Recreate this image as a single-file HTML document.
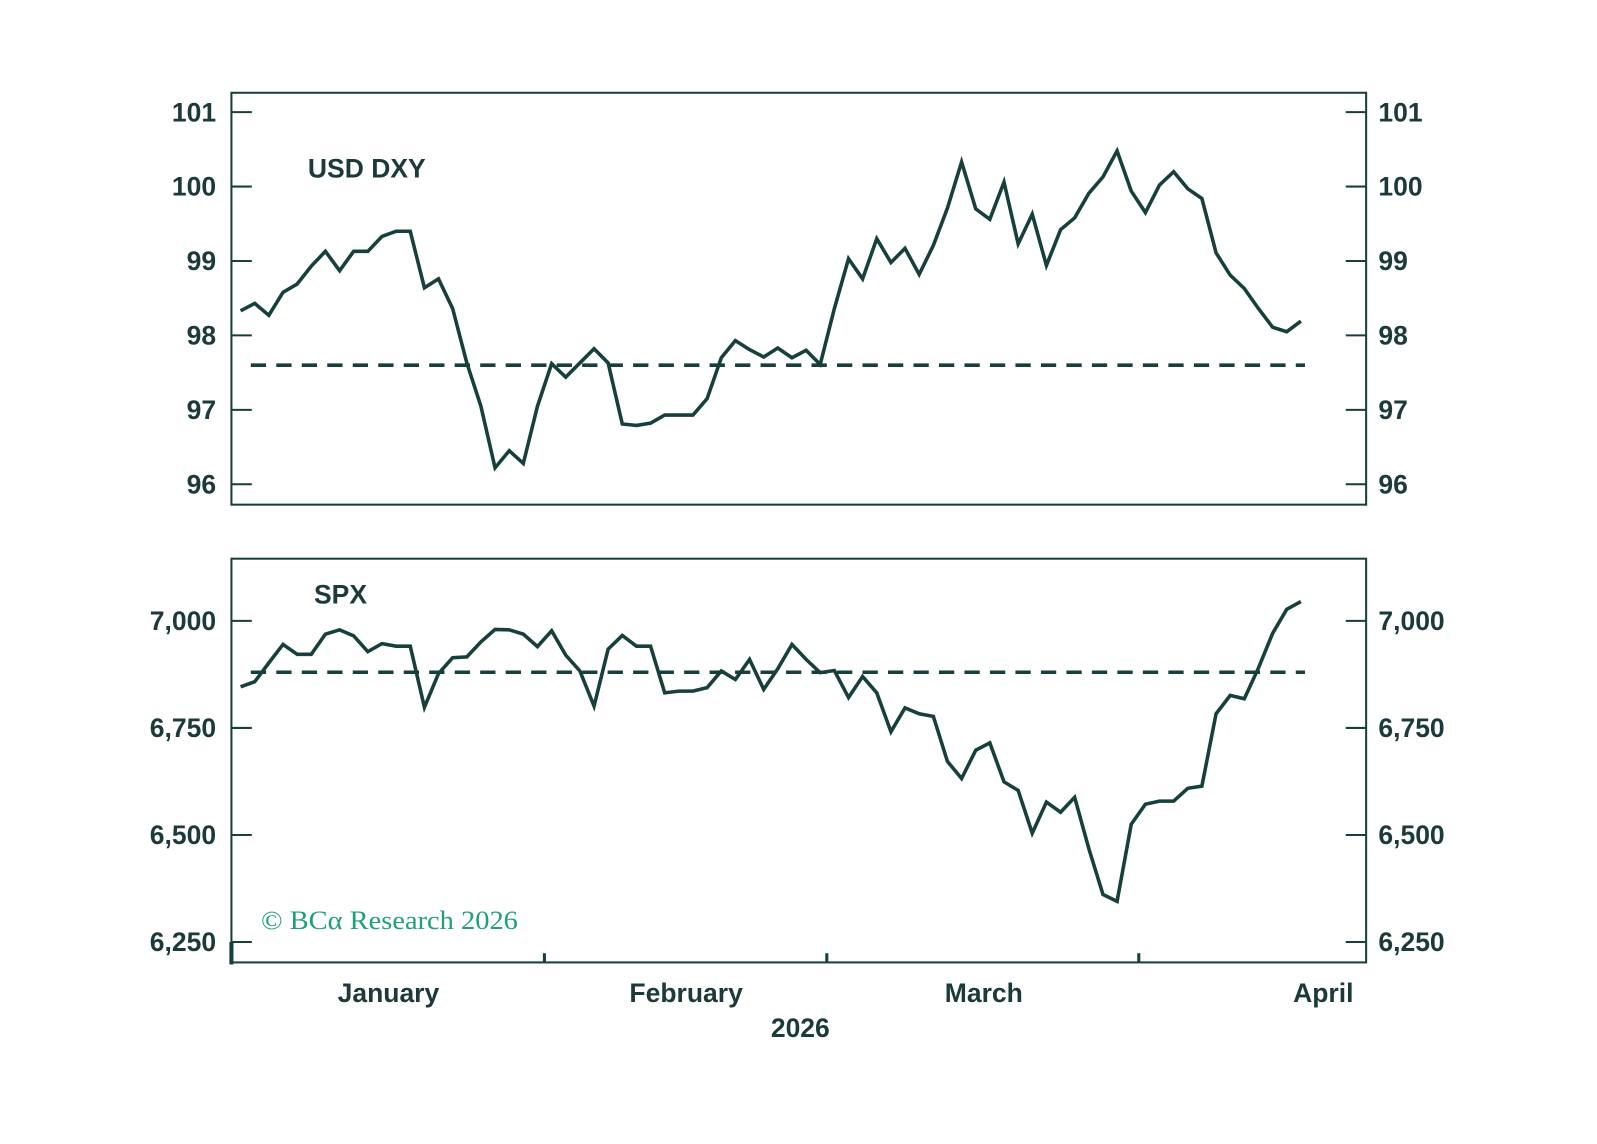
<!DOCTYPE html>
<html><head><meta charset="utf-8"><style>
body{margin:0;background:#fff;}
svg{display:block;font-family:"Liberation Sans",sans-serif;}
.tl{font-size:26px;font-weight:bold;fill:#1d3a3a;}
</style></head><body>
<svg id="chart" width="1597" height="1144" viewBox="0 0 1597 1144">
<rect x="0" y="0" width="1597" height="1144" fill="#fff"/>
<g id="g" transform="scale(1.0195)"></g>
</svg>
<script>
const dxyValues=[98.33,98.43,98.27,98.58,98.69,98.93,99.13,98.87,99.13,99.13,99.33,99.40,99.40,98.64,98.76,98.36,97.63,97.05,96.22,96.45,96.28,97.05,97.62,97.44,97.63,97.82,97.63,96.81,96.79,96.82,96.93,96.93,96.93,97.15,97.70,97.93,97.81,97.71,97.83,97.70,97.80,97.61,
98.36,99.03,98.76,99.30,98.98,99.17,98.82,99.21,99.71,100.33,99.70,99.56,100.06,99.23,99.63,98.94,99.42,99.58,99.91,100.13,100.48,99.94,99.65,100.02,100.20,99.97,99.84,99.11,98.81,98.63,98.36,98.11,98.05,98.19];
const spxValues=[6846,6858,6902,6945,6922,6922,6969,6979,6965,6928,6947,6941,6941,6798,6877,6914,6916,6951,6980,6979,6969,6940,6977,6920,6883,6801,6934,6966,6941,6941,6832,6836,6836,6844,6883,6863,6910,6840,6888,6945,6910,6879,
6884,6821,6870,6832,6741,6797,6783,6777,6672,6632,6698,6715,6624,6604,6504,6577,6553,6588,6468,6361,6345,6525,6572,6579,6579,6609,6614,6783,6826,6818,6890,6971,7027,7045];
const dxyTicks=[96,97,98,99,100,101];
const spxTicks=[6250,6500,6750,7000];
const spxTickLabels=["6,250","6,500","6,750","7,000"];
const dxyAvg=[97.6];
const spxAvg=[6880];
const monthLabels=["January","February","March","April"];

const NS="http://www.w3.org/2000/svg";
const g=document.getElementById('g');
const C="#173f3c";
function el(t,a,p){const e=document.createElementNS(NS,t);for(const k in a)e.setAttribute(k,a[k]);(p||g).appendChild(e);return e;}
const L=227,R=1340;
function xOf(i,n){return 236+i*(1276-236)/(n-1);}
const yD=v=>183-(v-100)*73;
const yS=v=>609-(v-7000)*105/250;

function panel(name,top,bot,ticks,labels,yf,vals,avg,title,ty){
  const box=el('rect',{x:L,y:top,width:R-L,height:bot-top,fill:'none',stroke:C,'stroke-width':2});
  
  
  ticks.forEach((t,i)=>{
    const y=yf(t);
    const a=el('line',{x1:L,x2:L+20,y1:y,y2:y,stroke:C,'stroke-width':2});
    
    
    const b=el('line',{x1:R-20,x2:R,y1:y,y2:y,stroke:C,'stroke-width':2});
    
    
    const t1=el('text',{x:212,y:y+9,'text-anchor':'end',class:'tl'});t1.textContent=labels[i];
    
    
    const t2=el('text',{x:1352,y:y+9,'text-anchor':'start',class:'tl'});t2.textContent=labels[i];
    
    
  });
  const ay=yf(avg[0]);
  const d=el('line',{x1:246,x2:1280,y1:ay,y2:ay,stroke:C,'stroke-width':3.5,'stroke-dasharray':'15 10'});
  
  
  const pts=vals.map((v,i)=>xOf(i,vals.length).toFixed(1)+','+yf(v).toFixed(1)).join(' ');
  const p=el('polyline',{points:pts,fill:'none',stroke:C,'stroke-width':3.5,'stroke-linejoin':'miter'});
  
  
  const tt=el('text',{x:ty[0],y:ty[1],class:'tl'});tt.textContent=title;
  
  
}
panel('dxy',91,495,dxyTicks,dxyTicks.map(String),yD,dxyValues,dxyAvg,'USD DXY',[302,174]);
panel('spx',548,944,spxTicks,spxTickLabels,yS,spxValues,spxAvg,'SPX',[308,592]);

const thick=el('line',{x1:L,x2:L,y1:924,y2:946,stroke:C,'stroke-width':4});


[534,811,1117].forEach(x=>{
  const t=el('line',{x1:x,x2:x,y1:935,y2:944,stroke:C,'stroke-width':3});
  
  
});
const mx=[381,673,965,1298];
monthLabels.forEach((m,i)=>{
  const t=el('text',{x:mx[i],y:983,'text-anchor':'middle',class:'tl'});t.textContent=m;
  
  
});
const yr=el('text',{x:785,y:1017,'text-anchor':'middle',class:'tl'});yr.textContent='2026';


const cp=el('text',{x:256,y:911,fill:'#1fa07a','font-size':'26px','font-family':'"Liberation Serif",serif',textLength:'252',lengthAdjust:'spacingAndGlyphs'});cp.textContent='© BCα Research 2026';


</script>
</body></html>
